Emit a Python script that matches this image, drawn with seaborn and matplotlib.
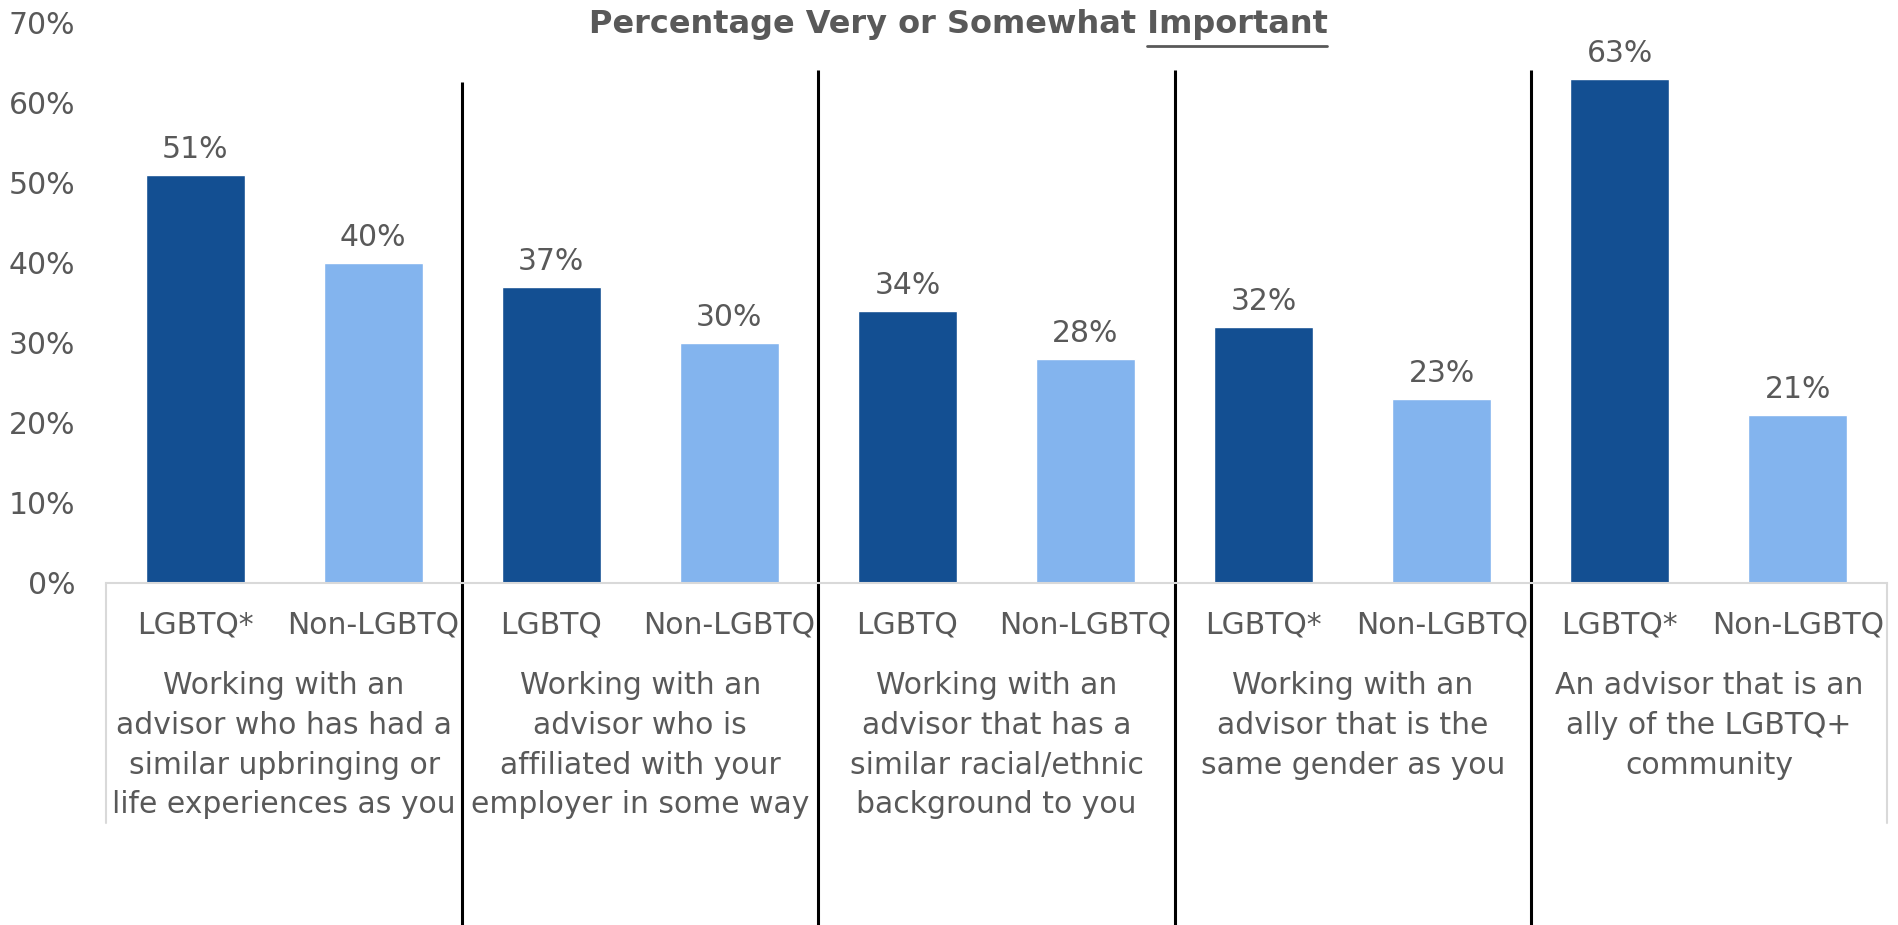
import matplotlib
matplotlib.use("Agg")
import matplotlib.pyplot as plt
import seaborn as sns
import pandas as pd
from matplotlib.lines import Line2D

# ---- data ----
groups = [
    "Working with an\nadvisor who has had a\nsimilar upbringing or\nlife experiences as you",
    "Working with an\nadvisor who is\naffiliated with your\nemployer in some way",
    "Working with an\nadvisor that has a\nsimilar racial/ethnic\nbackground to you",
    "Working with an\nadvisor that is the\nsame gender as you",
    "An advisor that is an\nally of the LGBTQ+\ncommunity",
]
lgbtq_labels = ["LGBTQ*", "LGBTQ", "LGBTQ", "LGBTQ*", "LGBTQ*"]
non_label = "Non-LGBTQ"
lgbtq_values = [51, 37, 34, 32, 63]
non_values = [40, 30, 28, 23, 21]
title_main = "Percentage Very or Somewhat "
title_under = "Important"

# ---- build table ----
rows = []
for i in range(len(groups)):
    rows.append({"slot": f"{2*i}", "label": lgbtq_labels[i], "series": "LGBTQ", "value": lgbtq_values[i]})
    rows.append({"slot": f"{2*i+1}", "label": non_label, "series": "Non-LGBTQ", "value": non_values[i]})
df = pd.DataFrame(rows)

TXT = "#595959"
GRID = "#d9d9d9"
FS = 21.5

sns.set_theme(style="white")
plt.rcParams["font.family"] = ["DejaVu Sans"]

W, H = 1898, 925
fig = plt.figure(figsize=(W / 100, H / 100), dpi=100)
ax = fig.add_axes([106 / W, 1 - 583 / H, (1887 - 106) / W, 560 / H])

sns.barplot(data=df, x="slot", y="value", hue="series", dodge=False,
            palette={"LGBTQ": "#134f92", "Non-LGBTQ": "#83b4ee"},
            saturation=1, width=0.556, legend=False, ax=ax)

for c in ax.containers:
    ax.bar_label(c, fmt="{:.0f}%", padding=8, fontsize=FS, color=TXT)

ax.set_ylim(0, 70)
ax.set_xlim(-0.5, len(df) - 0.5)
ax.set_yticks(range(0, 71, 10))
ax.set_yticklabels([f"{v}%" for v in range(0, 71, 10)])
ax.set_xticks(range(len(df)))
ax.set_xticklabels(df["label"].tolist())
ax.tick_params(axis="y", length=0, pad=22, labelsize=FS, labelcolor=TXT)
ax.tick_params(axis="x", length=0, pad=20, labelsize=FS, labelcolor=TXT)
ax.set_xlabel("")
ax.set_ylabel("")
for s in ["left", "right", "top"]:
    ax.spines[s].set_visible(False)
ax.spines["bottom"].set_color(GRID)
ax.spines["bottom"].set_linewidth(1.5)

trans = ax.get_xaxis_transform()
box_bottom = -(823 - 583) / 560
for k in range(len(groups) + 1):
    xb = 2 * k - 0.5
    ax.plot([xb, xb], [0, box_bottom], color=GRID, lw=1.5, transform=trans, clip_on=False)

# group labels
for i, g in enumerate(groups):
    ax.text(2 * i + 0.5, -(671 - 583) / 560, g, transform=trans, ha="center", va="top",
            fontsize=FS, color=TXT, linespacing=1.47)

# black separators
for k in range(1, len(groups)):
    xb = 2 * k - 0.5
    top = (583 - 82) / 560 if k == 1 else (583 - 70) / 560
    ax.plot([xb, xb], [top, -(940 - 583) / 560], color="black", lw=2.2,
            transform=trans, clip_on=False, solid_capstyle="butt")

# title with underlined last word
TFS = 23
tx, ty = 958 / W, 1 - 24 / H
t = fig.text(tx, ty, title_main + title_under, ha="center", va="center",
             fontsize=TFS, fontweight="bold", color=TXT)
fig.canvas.draw()
r = fig.canvas.get_renderer()
bb = t.get_window_extent(r)
tmp = fig.text(0, 0, title_under, fontsize=TFS, fontweight="bold", color=TXT)
wb = tmp.get_window_extent(r)
tmp.remove()
uy = (H - 46) / H
fig.add_artist(Line2D([(bb.x1 - wb.width) / W, bb.x1 / W], [uy, uy],
                      transform=fig.transFigure, color=TXT, lw=2))

fig.savefig("out.png", dpi=100)
